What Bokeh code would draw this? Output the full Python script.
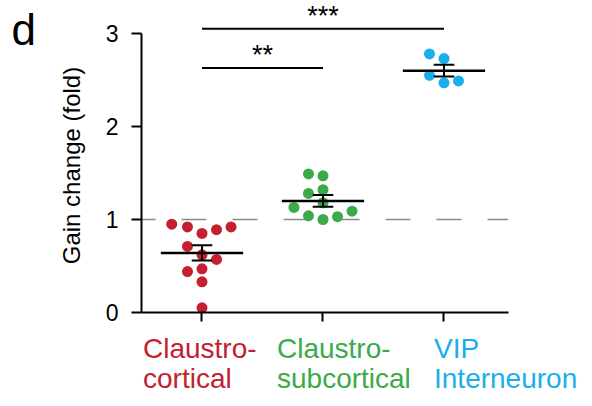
import math
from bokeh.plotting import figure
from bokeh.models import Range1d, FixedTicker, Label, LinearAxis
from bokeh.embed import file_html
from bokeh.resources import INLINE

# ---- data ----
categories = ["Claustro-cortical", "Claustro-subcortical", "VIP Interneuron"]
label_line1 = ["Claustro-", "Claustro-", "VIP"]
label_line2 = ["cortical", "subcortical", "Interneuron"]
colors = ["#C4202F", "#3BAA48", "#1AAEEA"]

red_y = [0.95, 0.92, 0.85, 0.89, 0.92, 0.71, 0.62, 0.57, 0.44, 0.47, 0.33, 0.05]
red_dx = [-0.25, -0.12, 0.0, 0.12, 0.24, -0.12, 0.0, 0.12, -0.12, 0.0, 0.0, 0.0]
green_y = [1.49, 1.47, 1.32, 1.28, 1.18, 1.13, 1.04, 1.00, 1.03, 1.09]
green_dx = [-0.12, 0.0, 0.0, -0.12, 0.0, -0.24, -0.12, 0.0, 0.12, 0.24]
blue_y = [2.78, 2.73, 2.55, 2.47, 2.49]
blue_dx = [-0.12, 0.0, -0.12, 0.0, 0.12]

means = [0.64, 1.20, 2.60]
sems = [0.082, 0.063, 0.063]

sig_x0 = [0, 0]
sig_x1 = [1, 2]
sig_y = [2.63, 3.05]
sig_text = ["**", "***"]

y_ticks = [0, 1, 2, 3]
ref_level = 1.0

FONT = "Liberation Sans"

# frame covers the whole canvas; axes are pinned at fixed data locations
p = figure(width=592, height=406, output_backend="svg", toolbar_location=None,
           x_range=Range1d(-1.6653, 3.2273), y_range=Range1d(-1.0108, 3.3548),
           x_axis_location=None, y_axis_location=None,
           min_border_left=0, min_border_right=0, min_border_top=0,
           min_border_bottom=0)
p.outline_line_color = None
p.grid.grid_line_color = None
p.background_fill_color = "white"
p.border_fill_color = "white"

ya = LinearAxis(fixed_location=-0.5, ticker=FixedTicker(ticks=y_ticks), bounds=(0, 3))
ya.axis_line_width = 2
ya.major_tick_line_width = 2
ya.major_tick_out = 10
ya.major_tick_in = 0
ya.minor_tick_line_color = None
ya.major_label_text_font = FONT
ya.major_label_text_font_size = "23px"
ya.major_label_text_color = "black"
ya.major_label_standoff = 13
p.add_layout(ya, "left")

xa = LinearAxis(fixed_location=0, ticker=FixedTicker(ticks=[0, 1, 2]), bounds=(-0.5, 2.53))
xa.axis_line_width = 2
xa.major_tick_line_width = 2
xa.major_tick_out = 9
xa.major_tick_in = 0
xa.minor_tick_line_color = None
xa.major_label_text_font_size = "0px"
xa.major_label_overrides = {0: "", 1: "", 2: ""}
p.add_layout(xa, "below")

# reference dashed line
p.line(x=[-0.5, 2.53], y=[ref_level, ref_level], line_color="#8a8a8a",
       line_width=1.5, line_dash="25 26", line_dash_offset=11)

# points
for i, (ys, dxs) in enumerate([(red_y, red_dx), (green_y, green_dx), (blue_y, blue_dx)]):
    p.scatter(x=[i + d for d in dxs], y=ys, size=11, fill_color=colors[i],
              line_color=None)

# mean and SEM
idx = list(range(len(means)))
p.segment(x0=[i - 0.34 for i in idx], x1=[i + 0.34 for i in idx], y0=means, y1=means,
          line_color="black", line_width=2.5)
p.segment(x0=idx, x1=idx, y0=[m - s for m, s in zip(means, sems)],
          y1=[m + s for m, s in zip(means, sems)], line_color="black", line_width=2)
for sign in (-1, 1):
    yy = [m + sign * s for m, s in zip(means, sems)]
    p.segment(x0=[i - 0.085 for i in idx], x1=[i + 0.085 for i in idx], y0=yy, y1=yy,
              line_color="black", line_width=2)

# significance bars
p.segment(x0=sig_x0, x1=sig_x1, y0=sig_y, y1=sig_y, line_color="black", line_width=2)
for x0, x1, y, t in zip(sig_x0, sig_x1, sig_y, sig_text):
    p.add_layout(Label(x=(x0 + x1) / 2, y=y, text=t, text_font=FONT,
                       text_font_size="27px", text_align="center",
                       text_baseline="middle", y_offset=13, text_color="black"))

# category labels
label_dx = [-59, -46, -10]
for i in idx:
    p.add_layout(Label(x=i, y=0, x_offset=label_dx[i], y_offset=-36, text=label_line1[i],
                       text_font=FONT, text_font_size="28px", text_color=colors[i],
                       text_align="left", text_baseline="middle"))
    p.add_layout(Label(x=i, y=0, x_offset=label_dx[i], y_offset=-66, text=label_line2[i],
                       text_font=FONT, text_font_size="28px", text_color=colors[i],
                       text_align="left", text_baseline="middle"))

# y axis title
p.add_layout(Label(x=-0.5, y=1.58, x_offset=-70, text="Gain change (fold)", angle=math.pi / 2,
                   text_font=FONT, text_font_size="24px", text_align="center",
                   text_baseline="middle", text_color="black"))

# panel letter
p.add_layout(Label(x=-0.5, y=3.3548, x_offset=-130, y_offset=-29, text="d",
                   text_font=FONT, text_font_size="44px", text_align="left",
                   text_baseline="middle", text_color="black"))

open("out.html", "w").write(file_html(p, INLINE))
